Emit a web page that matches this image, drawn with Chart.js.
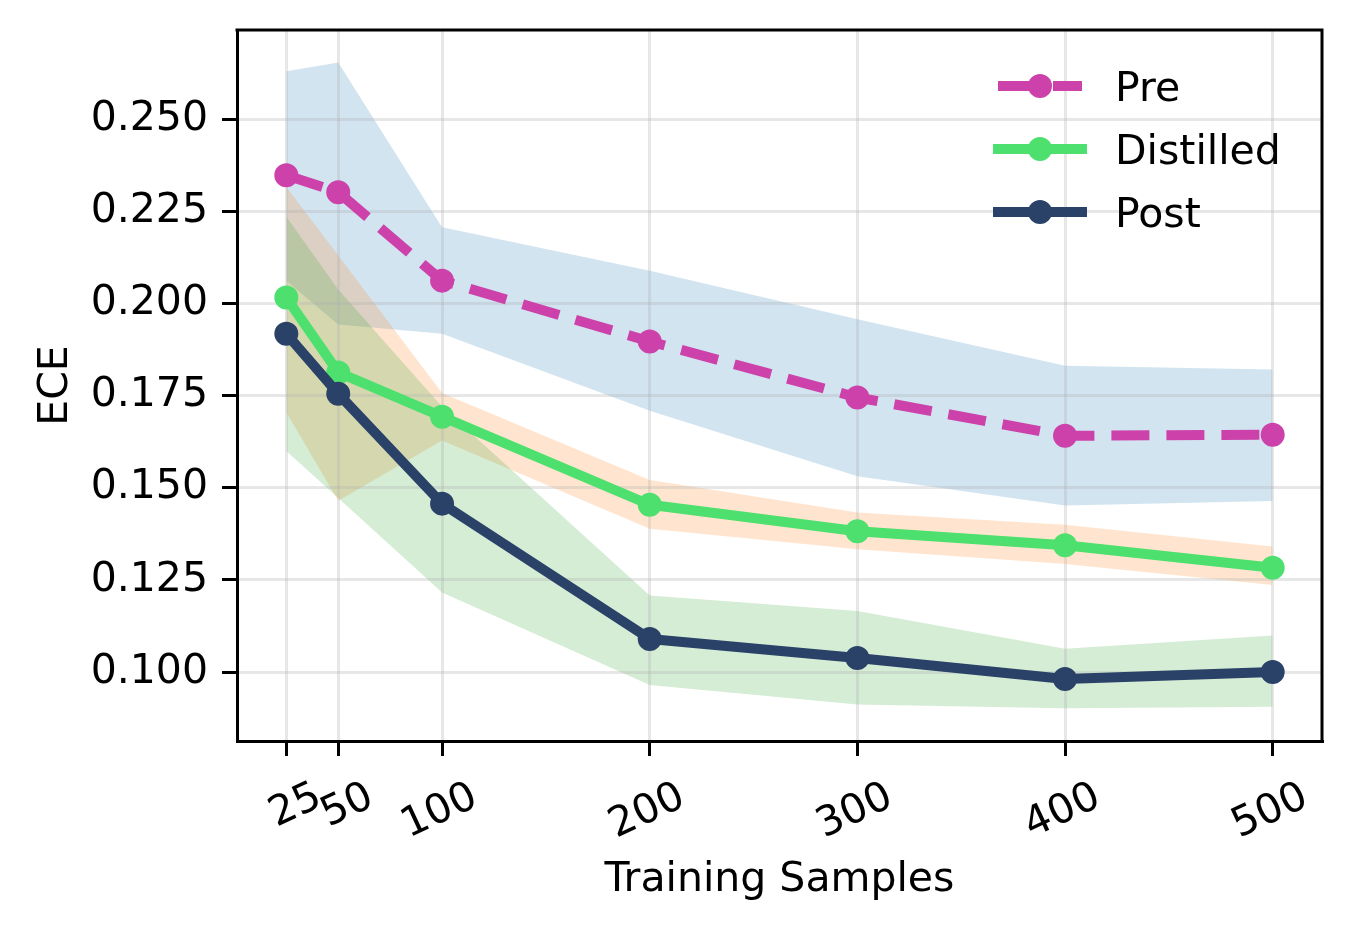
<!DOCTYPE html>
<html>
<head>
<meta charset="utf-8">
<script src="https://cdn.jsdelivr.net/npm/chart.js@4.4.0/dist/chart.umd.min.js"></script>
<style>
html,body{margin:0;padding:0;background:#ffffff;}
#wrap{width:1350px;height:930px;position:relative;}
</style>
</head>
<body>
<div id="wrap"><canvas id="c" width="1350" height="930"></canvas></div>
<script>
// ---- data ----
const samples   = [25, 50, 100, 200, 300, 400, 500];
const pre       = [0.2348, 0.2302, 0.2062, 0.1897, 0.1745, 0.1641, 0.1644];
const distilled = [0.2016, 0.1813, 0.1693, 0.1454, 0.1382, 0.1344, 0.1283];
const post      = [0.1918, 0.1755, 0.1457, 0.1090, 0.1038, 0.0981, 0.1000];
const preLow    = [0.2062, 0.1943, 0.1918, 0.1709, 0.1531, 0.1452, 0.1464];
const preHigh   = [0.2630, 0.2654, 0.2207, 0.2089, 0.1957, 0.1831, 0.1821];
const distLow   = [0.1705, 0.1465, 0.1628, 0.1389, 0.1333, 0.1293, 0.1236];
const distHigh  = [0.2316, 0.2130, 0.1757, 0.1521, 0.1433, 0.1400, 0.1341];
const postLow   = [0.1600, 0.1472, 0.1216, 0.0965, 0.0912, 0.0902, 0.0906];
const postHigh  = [0.2235, 0.2038, 0.1720, 0.1208, 0.1166, 0.1063, 0.1099];
const xTickValues = [25, 50, 100, 200, 300, 400, 500];
const yTickValues = [0.100, 0.125, 0.150, 0.175, 0.200, 0.225, 0.250];
const seriesLabels = ['Pre', 'Distilled', 'Post'];
const xTitle = 'Training Samples';
const yTitle = 'ECE';

// ---- styling ----
const FONT = 'DejaVu Sans';
const FS = 41;
const cPre = '#cc42aa', cDist = '#4ee06e', cPost = '#2a4268';
const LW = 10, PR = 10.5, PBW = 3;

const pts = (ys) => samples.map((x, i) => ({x: x, y: ys[i]}));

function lineDs(label, ys, color, dash) {
  return {
    label: label, data: pts(ys), borderColor: color, backgroundColor: color,
    borderWidth: LW, borderDash: dash || [], borderCapStyle: dash ? 'butt' : 'round',
    borderJoinStyle: 'round', pointRadius: PR, pointBorderWidth: PBW,
    pointBackgroundColor: color, pointBorderColor: color, fill: false, tension: 0,
    isSeries: true
  };
}
function edgeDs(label, ys) {
  return { label: label, data: pts(ys), borderColor: 'rgba(0,0,0,0)', borderWidth: 0,
           pointRadius: 0, fill: false, tension: 0 };
}
function bandDs(label, ys, bg) {
  return { label: label, data: pts(ys), borderColor: 'rgba(0,0,0,0)', borderWidth: 0,
           pointRadius: 0, fill: '-1', backgroundColor: bg, tension: 0 };
}

const datasets = [
  lineDs(seriesLabels[2], post, cPost),
  lineDs(seriesLabels[1], distilled, cDist),
  lineDs(seriesLabels[0], pre, cPre, [38, 17]),
  edgeDs('_postLow', postLow),
  bandDs('_postHigh', postHigh, 'rgba(44,160,44,0.2)'),
  edgeDs('_distLow', distLow),
  bandDs('_distHigh', distHigh, 'rgba(255,127,14,0.2)'),
  edgeDs('_preLow', preLow),
  bandDs('_preHigh', preHigh, 'rgba(31,119,180,0.2)')
];

// top/right spines + legend (matplotlib-like, inside axes, no frame)
const framePlugin = {
  id: 'frameAndLegend',
  afterDatasetsDraw(chart) {
    const ctx = chart.ctx, a = chart.chartArea;
    ctx.save();
    ctx.strokeStyle = '#000'; ctx.lineWidth = 3; ctx.lineCap = 'square';
    ctx.beginPath();
    ctx.moveTo(a.left, a.top); ctx.lineTo(a.right, a.top); ctx.lineTo(a.right, a.bottom);
    ctx.stroke();
    // legend
    const order = seriesLabels;
    const x0 = a.right - 324, x1 = a.right - 240;
    order.forEach((lab, k) => {
      const ds = chart.data.datasets.find(d => d.isSeries && d.label === lab);
      const y = a.top + 56 + k * 63;
      ctx.save();
      ctx.strokeStyle = ds.borderColor; ctx.lineWidth = LW;
      ctx.setLineDash(ds.borderDash || []);
      ctx.lineCap = (ds.borderDash && ds.borderDash.length) ? 'butt' : 'square';
      ctx.beginPath(); ctx.moveTo(x0, y); ctx.lineTo(x1, y); ctx.stroke();
      ctx.setLineDash([]);
      ctx.fillStyle = ds.borderColor;
      ctx.beginPath(); ctx.arc((x0 + x1) / 2, y, PR + PBW / 2, 0, Math.PI * 2); ctx.fill();
      ctx.fillStyle = '#000';
      ctx.font = FS + 'px "' + FONT + '"';
      ctx.textBaseline = 'alphabetic'; ctx.textAlign = 'left';
      ctx.fillText(lab, a.right - 207, y + 15);
      ctx.restore();
    });
    ctx.restore();
  }
};

Chart.defaults.font.family = FONT;
Chart.defaults.font.size = FS;
Chart.defaults.color = '#000';

new Chart(document.getElementById('c'), {
  type: 'line',
  data: { datasets: datasets },
  options: {
    responsive: false, animation: false, devicePixelRatio: 1, events: [],
    layout: { padding: { top: 30, right: 28, left: 0, bottom: 0 } },
    plugins: {
      legend: { display: false }, tooltip: { enabled: false },
      filler: { drawTime: 'beforeDraw', propagate: false }
    },
    scales: {
      x: {
        type: 'linear', min: 1.25, max: 523.75, offset: false,
        afterBuildTicks: (s) => { s.ticks = xTickValues.map(v => ({value: v})); },
        afterFit: (s) => { s.height = 189; s.paddingLeft = 0; s.paddingRight = 0; },
        ticks: { autoSkip: false, minRotation: 25, maxRotation: 25, padding: 17, labelOffset: 33,
                 font: {size: FS, family: FONT}, color: '#000',
                 callback: (v) => String(v) },
        grid: { color: 'rgba(176,176,176,0.3)', lineWidth: 3, tickLength: 15,
                tickColor: '#000', tickWidth: 3, drawOnChartArea: true },
        border: { display: true, color: '#000', width: 3 },
        title: { display: true, text: xTitle, font: {size: FS, family: FONT}, color: '#000',
                 padding: { top: 0, bottom: 25 } }
      },
      y: {
        type: 'linear', min: 0.0813, max: 0.2742,
        afterBuildTicks: (s) => { s.ticks = yTickValues.map(v => ({value: v})); },
        afterFit: (s) => { s.width = 237; s.paddingTop = 0; s.paddingBottom = 0; },
        ticks: { padding: 14, font: {size: FS, family: FONT}, color: '#000',
                 callback: (v) => Number(v).toFixed(3) },
        grid: { color: 'rgba(176,176,176,0.3)', lineWidth: 3, tickLength: 15,
                tickColor: '#000', tickWidth: 3 },
        border: { display: true, color: '#000', width: 3 },
        title: { display: true, text: yTitle, font: {size: FS, family: FONT}, color: '#000',
                 padding: { top: 32, bottom: 0 } }
      }
    }
  },
  plugins: [framePlugin]
});
</script>
</body>
</html>
